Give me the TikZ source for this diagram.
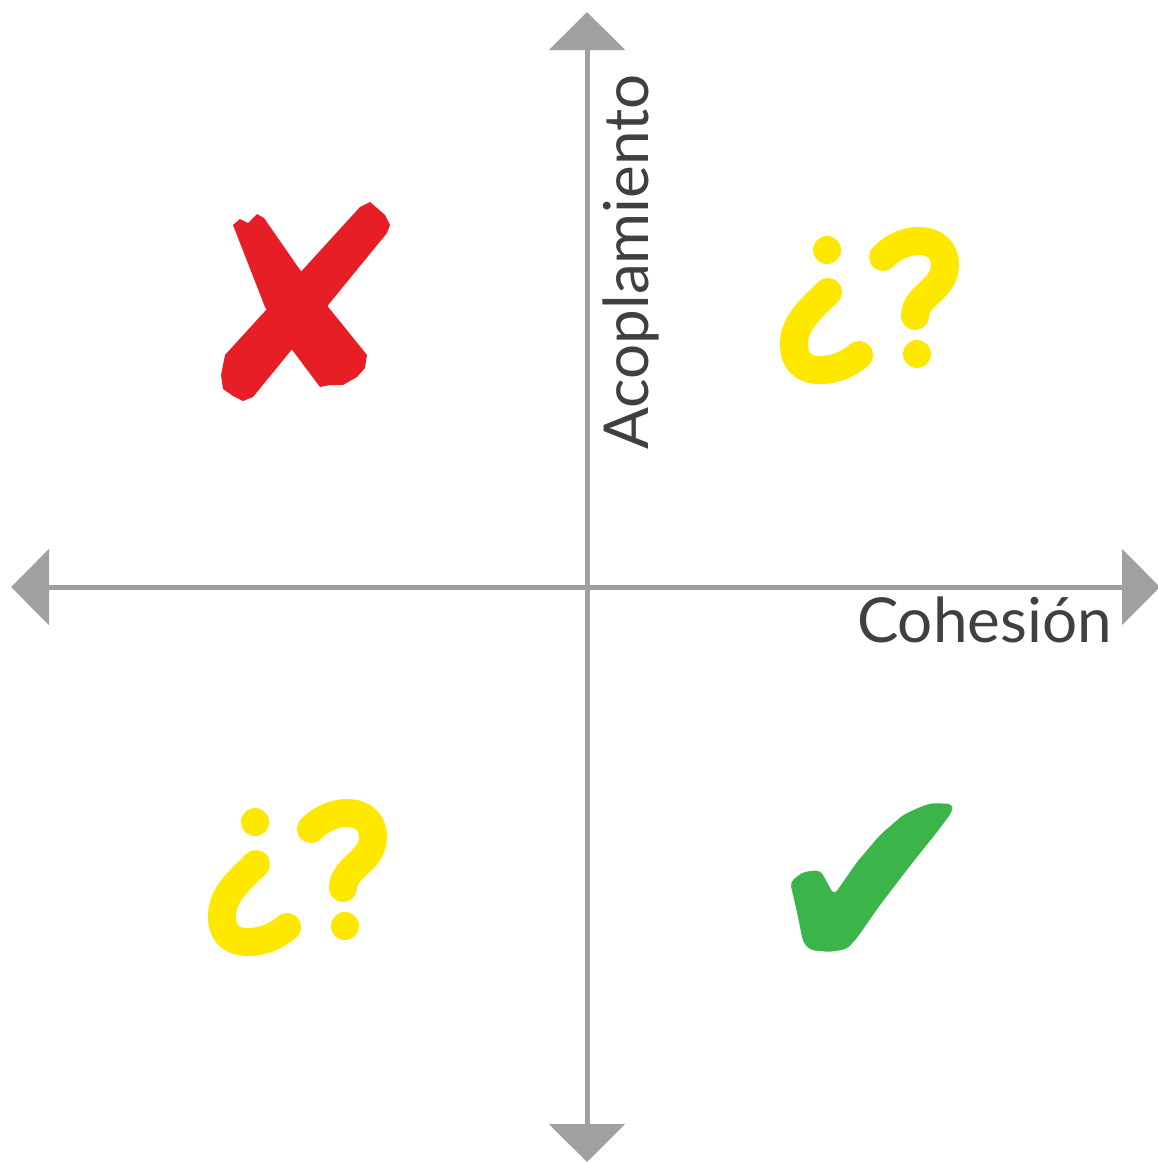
\documentclass[tikz,border=0pt]{standalone}
\usepackage{fontspec}
\setmainfont{Lato}
\usetikzlibrary{arrows.meta}
\definecolor{axisgray}{RGB}{160,160,160}
\definecolor{txtgray}{RGB}{64,64,64}
\definecolor{xred}{RGB}{232,30,38}
\definecolor{qyellow}{RGB}{255,232,0}
\definecolor{cgreen}{RGB}{59,181,74}
\begin{document}
\begin{tikzpicture}[x=1pt,y=-1pt,
  axis/.style={draw=axisgray,fill=axisgray,line width=5pt,{Triangle[width=75pt,length=38pt]}-{Triangle[width=75pt,length=38pt]}},
  lbl/.style={text=txtgray,inner sep=0pt,font=\fontsize{62}{74}\selectfont},
  qstroke/.style={draw=qyellow,line width=28pt,line cap=round},
  qpair/.pic={
    \fill[qyellow] (0,0) circle[radius=14];
    \draw[qstroke] (1,42) .. controls (-15,58) and (-33,72) .. (-33,94)
       .. controls (-33,116) and (-18,121) .. (-4,120)
       .. controls (12,119) and (24,112) .. (32,105);
    \draw[qstroke] (56,7) .. controls (78,-16) and (118,-15) .. (118,15)
       .. controls (118,40) and (88,45) .. (88,66);
    \fill[qyellow] (90,104) circle[radius=14];
  }]
\useasboundingbox (0,0) rectangle (1158,1162);
\coordinate (top) at (587,12);
\coordinate (bot) at (587,1162);
\coordinate (left) at (11,587);
\coordinate (right) at (1160,587);
\draw[axis] (left) -- (right);
\draw[axis] (top) -- (bot);
\node[lbl,anchor=base east] (coh) at (1112,642) {Cohesión};
\node[lbl,rotate=90,anchor=base west] (aco) at (648,450) {Acoplamiento};
% red cross
\fill[xred] (233,225) -- (240,219) -- (248,223) -- (257,214) -- (264,218) -- (298,267)
  -- (325,303) -- (367,355) -- (365,368) -- (357,377) -- (343,385) -- (330,385)
  -- (320,387) -- (290,347) -- (265,307) -- cycle;
\fill[xred] (360,207) -- (370,202) -- (377,208) -- (385,215) -- (390,225) -- (387,233)
  -- (253,397) -- (243,401) -- (233,396) -- (223,389) -- (221,375) -- (225,355) -- cycle;
% question marks
\pic at (827,250) {qpair};
\pic at (255,822) {qpair};
% green check
\fill[cgreen,rounded corners=5pt] (790,882) -- (803,872) -- (820,870) -- (823,875)
  -- (834,895) -- (857,862) -- (880,835) -- (903,815) -- (920,807) -- (932,803)
  -- (953,804) -- (952,812) -- (937,832) -- (913,862) -- (880,905) -- (857,938)
  -- (847,949) -- (830,952) -- (810,950) -- (803,942) -- (797,912) -- cycle;
\end{tikzpicture}
\end{document}
